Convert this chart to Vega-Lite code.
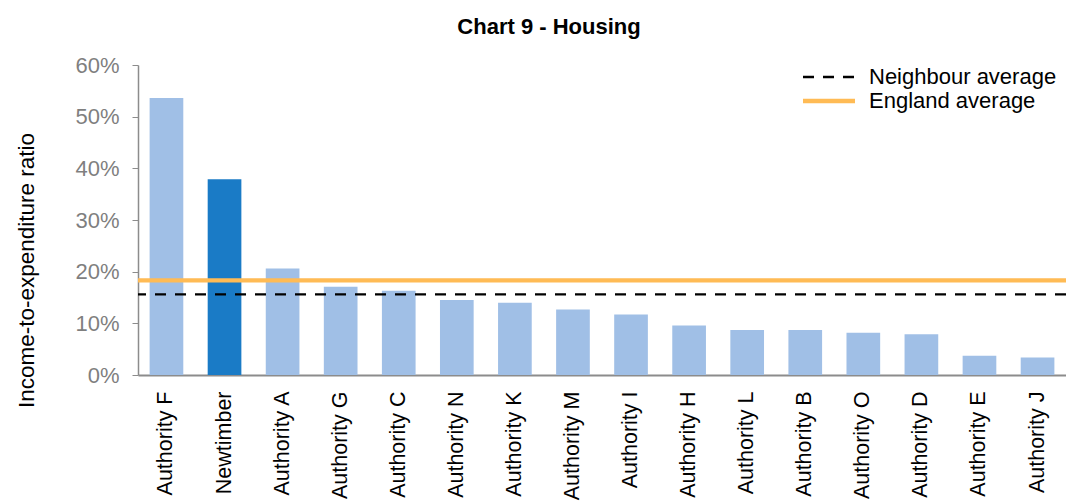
{
  "$schema": "https://vega.github.io/schema/vega-lite/v6.json",
  "width": 928,
  "height": 310,
  "autosize": "none",
  "padding": {"left": 138, "top": 65, "right": 0, "bottom": 126},
  "config": {"view": {"stroke": null}, "font": "Liberation Sans"},
  "title": {"text": "Chart 9 - Housing", "fontSize": 22, "font": "Liberation Sans", "fontWeight": "bold", "color": "black", "anchor": "middle", "dx": -53, "offset": 15},
  "layer": [
    {
      "data": {"values": [
        {"name": "Authority F", "value": 0.536, "group": "other"},
        {"name": "Newtimber", "value": 0.379, "group": "Newtimber"},
        {"name": "Authority A", "value": 0.206, "group": "other"},
        {"name": "Authority G", "value": 0.171, "group": "other"},
        {"name": "Authority C", "value": 0.163, "group": "other"},
        {"name": "Authority N", "value": 0.145, "group": "other"},
        {"name": "Authority K", "value": 0.140, "group": "other"},
        {"name": "Authority M", "value": 0.127, "group": "other"},
        {"name": "Authority I", "value": 0.117, "group": "other"},
        {"name": "Authority H", "value": 0.096, "group": "other"},
        {"name": "Authority L", "value": 0.087, "group": "other"},
        {"name": "Authority B", "value": 0.087, "group": "other"},
        {"name": "Authority O", "value": 0.082, "group": "other"},
        {"name": "Authority D", "value": 0.079, "group": "other"},
        {"name": "Authority E", "value": 0.0375, "group": "other"},
        {"name": "Authority J", "value": 0.034, "group": "other"}
      ]},
      "mark": {"type": "bar"},
      "encoding": {
        "x": {"field": "name", "type": "nominal", "sort": null,
          "scale": {"paddingInner": 0.42, "paddingOuter": 0.2},
          "axis": {"title": null, "labelAngle": -90, "labelFontSize": 21.5, "labelColor": "black", "labelFont": "Liberation Sans", "ticks": false, "labelPadding": 16, "labelLimit": 300, "domainColor": "#8c8c8c", "domainWidth": 2}},
        "y": {"field": "value", "type": "quantitative",
          "scale": {"domain": [0, 0.6]},
          "axis": {"values": [0, 0.1, 0.2, 0.3, 0.4, 0.5, 0.6], "format": ".0%", "grid": false, "labelFontSize": 22, "labelColor": "#7f7f7f", "labelFont": "Liberation Sans", "labelPadding": 13, "tickSize": 6, "tickColor": "#8c8c8c", "domainColor": "#8c8c8c", "domainWidth": 1.5, "title": "Income-to-expenditure ratio", "titleFontSize": 22.5, "titleFontWeight": "normal", "titleColor": "black", "titleFont": "Liberation Sans", "titleX": -105, "titleY": 205, "titleBaseline": "alphabetic", "titleAngle": -90, "titleAlign": "center", "titleLimit": 500}},
        "fill": {"field": "group", "type": "nominal",
          "scale": {"domain": ["other", "Newtimber"], "range": ["#A0BFE6", "#1A7BC6"]},
          "legend": null}
      }
    },
    {
      "data": {"values": [
        {"series": "Neighbour average", "value": 0.156},
        {"series": "England average", "value": 0.183}
      ]},
      "mark": {"type": "rule"},
      "encoding": {
        "y": {"field": "value", "type": "quantitative"},
        "stroke": {"field": "series", "type": "nominal",
          "scale": {"domain": ["Neighbour average", "England average"], "range": ["black", "#FFBB55"]},
          "legend": {"orient": "none", "legendX": 680, "legendY": 1, "title": null, "symbolType": "M-4,0H4", "symbolSize": 169, "labelFontSize": 22, "labelColor": "black", "labelFont": "Liberation Sans", "labelOffset": 29, "labelLimit": 400, "rowPadding": 2, "padding": 0}},
        "strokeDash": {"field": "series", "type": "nominal",
          "scale": {"domain": ["Neighbour average", "England average"], "range": [[11, 9], [1, 0]]}},
        "strokeWidth": {"field": "series", "type": "nominal",
          "scale": {"domain": ["Neighbour average", "England average"], "range": [2.3, 4.3]}}
      }
    }
  ]
}
